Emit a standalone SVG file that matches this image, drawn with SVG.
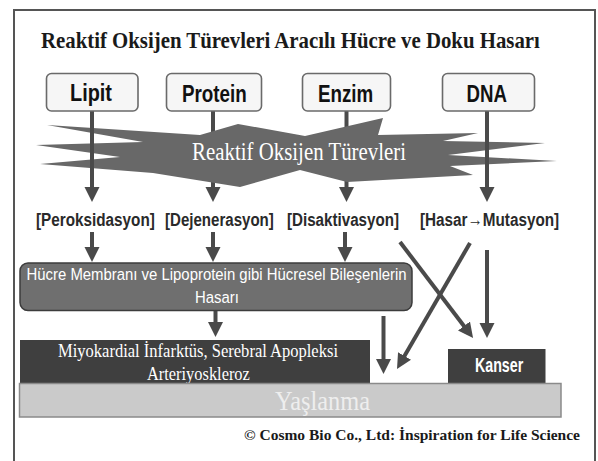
<svg xmlns="http://www.w3.org/2000/svg" width="598" height="461" viewBox="0 0 598 461">
<style>
.frame{fill:#ffffff;stroke:#555555;stroke-width:2}
.src{fill:#f6f6f6;stroke:#6a6a6a;stroke-width:1.6}
.srct{font-family:"Liberation Sans",Arial,sans-serif;font-weight:bold;font-size:24px;fill:#111111}
.lbl{font-family:"Liberation Sans",Arial,sans-serif;font-weight:bold;font-size:19px;fill:#2a2a2a}
.arr{stroke:#4a4a4a;stroke-width:4;fill:none}
.wsans{font-family:"Liberation Sans",Arial,sans-serif;fill:#ffffff}
.serif{font-family:"Liberation Serif","Times New Roman",serif}
</style>
<defs>
<marker id="ah" markerUnits="userSpaceOnUse" markerWidth="16" markerHeight="16" refX="5" refY="7.5" orient="auto">
<path d="M0,0 L15,7.5 L0,15 Z" fill="#4a4a4a"/>
</marker>
</defs>
<rect width="598" height="461" fill="#ffffff"/>
<rect class="frame" x="14" y="10" width="581" height="470"/>
<text class="serif" transform="translate(41,48) scale(0.863,1)" font-weight="bold" font-size="24" fill="#1a1a1a" textLength="578" lengthAdjust="spacingAndGlyphs">Reaktif Oksijen Türevleri Aracılı Hücre ve Doku Hasarı</text>

<g id="connectors-under">
<line class="arr" x1="213" y1="111" x2="213" y2="192" marker-end="url(#ah)"/>
<line class="arr" x1="346.5" y1="111" x2="346.5" y2="192" marker-end="url(#ah)"/>
</g>

<g id="ros">
<polygon points="47,125 200,135 238,124 305,136 383,118 378,135 478,133 443,141 545,143 448,155 557,161 450,166 473,175 347,182 300,170 240,187 153,173 40,164 120,157 36,145 143,142" fill="#686868"/>
<text class="serif" transform="translate(192,160) scale(0.833,1)" font-size="25" fill="#ffffff" textLength="257" lengthAdjust="spacingAndGlyphs">Reaktif Oksijen Türevleri</text>
</g>

<g id="connectors">
<line class="arr" x1="92" y1="111" x2="92" y2="192" marker-end="url(#ah)"/>
<line class="arr" x1="487" y1="111" x2="487" y2="192" marker-end="url(#ah)"/>
<line class="arr" x1="92" y1="232" x2="92" y2="252" marker-end="url(#ah)"/>
<line class="arr" x1="213" y1="232" x2="213" y2="252" marker-end="url(#ah)"/>
<line class="arr" x1="345" y1="232" x2="345" y2="252" marker-end="url(#ah)"/>
<line class="arr" x1="215.5" y1="311" x2="215.5" y2="327" marker-end="url(#ah)"/>
<line class="arr" x1="383.5" y1="316" x2="383.5" y2="364" marker-end="url(#ah)"/>
<line class="arr" x1="470" y1="243" x2="402" y2="360.3" marker-end="url(#ah)"/>
<line class="arr" x1="400" y1="242" x2="467" y2="330" marker-end="url(#ah)"/>
<line class="arr" x1="487" y1="250" x2="487" y2="328" marker-end="url(#ah)"/>
</g>

<g id="lipit">
<rect class="src" x="46.5" y="73.5" width="91.5" height="37.5" rx="5"/>
<text class="srct" transform="translate(70,101) scale(0.8,1)" textLength="52.5" lengthAdjust="spacingAndGlyphs">Lipit</text>
</g>
<g id="protein">
<rect class="src" x="166.5" y="73.5" width="95" height="37.5" rx="5"/>
<text class="srct" transform="translate(182,101.5) scale(0.8,1)" textLength="81" lengthAdjust="spacingAndGlyphs">Protein</text>
</g>
<g id="enzim">
<rect class="src" x="302.5" y="73.5" width="88" height="37.5" rx="5"/>
<text class="srct" transform="translate(318,101.5) scale(0.8,1)" textLength="69" lengthAdjust="spacingAndGlyphs">Enzim</text>
</g>
<g id="dna">
<rect class="src" x="442.5" y="73.5" width="92" height="37.5" rx="5"/>
<text class="srct" transform="translate(466.5,101.5) scale(0.8,1)" textLength="50.5" lengthAdjust="spacingAndGlyphs">DNA</text>
</g>

<g id="labels">
<text class="lbl" transform="translate(36,226) scale(0.8,1)" textLength="148.5" lengthAdjust="spacingAndGlyphs">[Peroksidasyon]</text>
<text class="lbl" transform="translate(165,226) scale(0.8,1)" textLength="136" lengthAdjust="spacingAndGlyphs">[Dejenerasyon]</text>
<text class="lbl" transform="translate(287,226) scale(0.8,1)" textLength="140" lengthAdjust="spacingAndGlyphs">[Disaktivasyon]</text>
<text class="lbl" transform="translate(420,226) scale(0.8,1)" textLength="174" lengthAdjust="spacingAndGlyphs">[Hasar→Mutasyon]</text>
</g>

<g id="hucre">
<rect x="20" y="263" width="392" height="47.5" rx="8" fill="#6f6f6f" stroke="#3c3c3c" stroke-width="1.5"/>
<text class="wsans" transform="translate(26.5,280) scale(0.878,1)" font-size="17" textLength="433" lengthAdjust="spacingAndGlyphs">Hücre Membranı ve Lipoprotein gibi Hücresel Bileşenlerin</text>
<text class="wsans" transform="translate(217,302.5) scale(0.878,1)" font-size="17" text-anchor="middle">Hasarı</text>
</g>

<g id="miyokardial">
<rect x="20" y="340" width="350" height="44" fill="#3f3f3f"/>
<text class="serif" transform="translate(58,357) scale(0.915,1)" font-size="18" fill="#ffffff" textLength="306" lengthAdjust="spacingAndGlyphs">Miyokardial İnfarktüs, Serebral Apopleksi</text>
<text class="serif" transform="translate(147,380) scale(0.91,1)" font-size="18" fill="#ffffff" textLength="113" lengthAdjust="spacingAndGlyphs">Arteriyoskleroz</text>
</g>

<g id="kanser">
<rect x="448" y="349" width="97.5" height="35" fill="#3f3f3f"/>
<text class="wsans" transform="translate(475,372) scale(0.72,1)" font-size="20" font-weight="bold" textLength="67" lengthAdjust="spacingAndGlyphs">Kanser</text>
</g>

<g id="yaslanma">
<rect x="19.5" y="383.5" width="541.5" height="33.5" fill="#cacaca" stroke="#8a8a8a" stroke-width="1.5"/>
<text class="serif" transform="translate(275,410) scale(0.88,1)" font-size="27" fill="#eeeeee" textLength="108" lengthAdjust="spacingAndGlyphs">Yaşlanma</text>
</g>

<text class="serif" x="244" y="440" font-weight="bold" font-size="15.5" fill="#1a1a1a" textLength="336" lengthAdjust="spacingAndGlyphs">© Cosmo Bio Co., Ltd: İnspiration for Life Science</text>
</svg>
